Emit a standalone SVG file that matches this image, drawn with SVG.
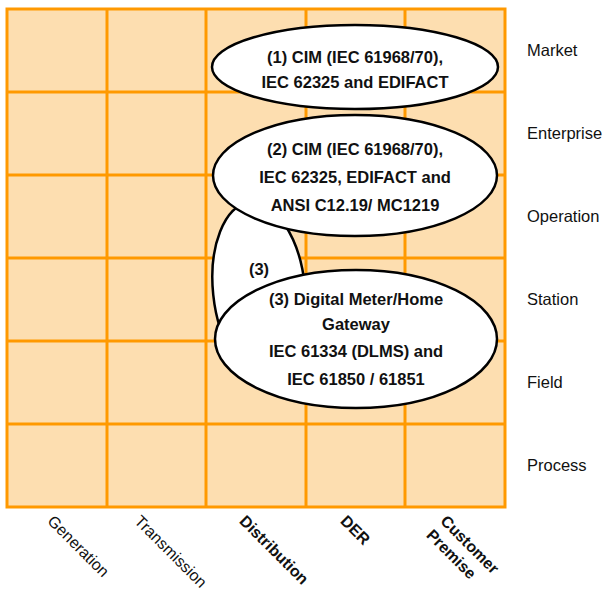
<svg xmlns="http://www.w3.org/2000/svg" width="604" height="592" viewBox="0 0 604 592">
<style>
.cell{fill:#FDDEB0;stroke:#FF9900;stroke-width:3}
.gl{stroke:#FF9900;stroke-width:3;fill:none}
.ell{fill:#FFFFFF;stroke:#000000;stroke-width:2.5}
.bt{font-family:"Liberation Sans",Arial,sans-serif;font-size:16.5px;font-weight:bold;fill:#111;text-anchor:middle}
.lab{font-family:"Liberation Sans",Arial,sans-serif;font-size:16.5px;fill:#111}
.rot{font-family:"Liberation Sans",Arial,sans-serif;font-size:16px;fill:#111}
.rotb{font-family:"Liberation Sans",Arial,sans-serif;font-size:16px;font-weight:bold;fill:#111}
</style>
<rect width="604" height="592" fill="#FFFFFF"/>
<g id="grid">
<rect class="cell" x="7" y="9" width="498" height="498"/>
<path class="gl" d="M107 9V507M206 9V507M306 9V507M405 9V507M7 92H505M7 175H505M7 258H505M7 341H505M7 424H505"/>
</g>
<g id="row-labels">
<text class="lab" x="527" y="56">Market</text>
<text class="lab" x="527" y="139">Enterprise</text>
<text class="lab" x="527" y="222">Operation</text>
<text class="lab" x="527" y="305">Station</text>
<text class="lab" x="527" y="388">Field</text>
<text class="lab" x="527" y="471">Process</text>
</g>
<g id="col-labels">
<text class="rot" transform="translate(46.5,522) rotate(45)">Generation</text>
<text class="rot" transform="translate(133.5,522) rotate(45)">Transmission</text>
<text class="rotb" transform="translate(238.5,522) rotate(45)">Distribution</text>
<text class="rotb" transform="translate(339.5,522) rotate(45)">DER</text>
<text class="rotb" transform="translate(439.5,522) rotate(45)">Customer</text>
<text class="rotb" transform="translate(425.5,536) rotate(45)">Premise</text>
</g>
<g id="connectors"></g>
<g id="node-3-small">
<ellipse class="ell" cx="259" cy="290" rx="46" ry="88" transform="rotate(-6 259 290)"/>
<text class="bt" x="259" y="275">(3)</text>
</g>
<g id="node-1">
<ellipse class="ell" cx="355" cy="67" rx="143" ry="42"/>
<text class="bt" x="355" y="63">(1) CIM (IEC 61968/70),</text>
<text class="bt" x="355" y="88">IEC 62325 and EDIFACT</text>
</g>
<g id="node-2">
<ellipse class="ell" cx="355" cy="175.5" rx="142" ry="60.5"/>
<text class="bt" x="355" y="155">(2) CIM (IEC 61968/70),</text>
<text class="bt" x="355" y="183">IEC 62325, EDIFACT and</text>
<text class="bt" x="355" y="211">ANSI C12.19/ MC1219</text>
</g>
<g id="node-3">
<ellipse class="ell" cx="356" cy="339" rx="141" ry="69"/>
<text class="bt" x="356" y="305">(3) Digital Meter/Home</text>
<text class="bt" x="356" y="330">Gateway</text>
<text class="bt" x="356" y="357">IEC 61334 (DLMS) and</text>
<text class="bt" x="356" y="385">IEC 61850 / 61851</text>
</g>
</svg>
